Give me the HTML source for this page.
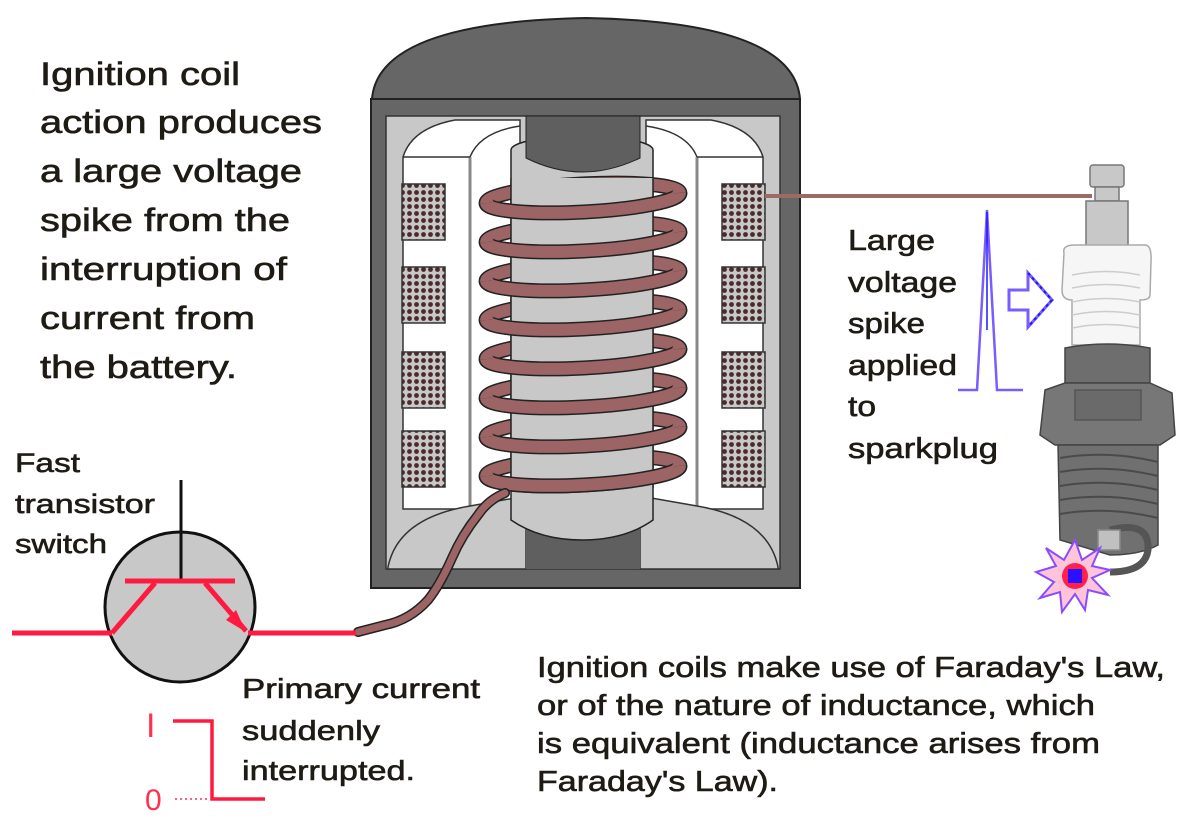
<!DOCTYPE html>
<html><head><meta charset="utf-8"><style>
html,body{margin:0;padding:0;background:#fff;}
svg{display:block;}
text{font-family:"Liberation Sans",Arial,sans-serif;fill:#1e1a14;stroke:#1e1a14;stroke-width:0.6;}
</style></head><body>
<svg width="1200" height="821" viewBox="0 0 1200 821" xmlns="http://www.w3.org/2000/svg">
<defs>
<pattern id="wind" width="7" height="7" patternUnits="userSpaceOnUse">
<rect width="7" height="7" fill="#c8c8c8"/>
<circle cx="3.5" cy="3.5" r="2.4" fill="#4a2a2a"/>
</pattern>
<g id="turnB">
<ellipse cx="0" cy="0" rx="97" ry="14" fill="none" stroke="#222" stroke-width="15"/>
<ellipse cx="0" cy="0" rx="97" ry="14" fill="none" stroke="#9c6464" stroke-width="12"/>
</g>
<g id="turnF">
<path d="M-97 0 A97 14 0 0 0 97 0" fill="none" stroke="#222" stroke-width="15"/>
<path d="M-97 0 A97 14 0 0 0 97 0" fill="none" stroke="#9c6464" stroke-width="12"/>
</g>
</defs>

<!-- Left text -->
<g font-size="32">
<text x="40" y="85" textLength="200" lengthAdjust="spacingAndGlyphs">Ignition coil</text>
<text x="40" y="133" textLength="282" lengthAdjust="spacingAndGlyphs">action produces</text>
<text x="40" y="182" textLength="262" lengthAdjust="spacingAndGlyphs">a large voltage</text>
<text x="40" y="231" textLength="250" lengthAdjust="spacingAndGlyphs">spike from the</text>
<text x="40" y="280" textLength="247" lengthAdjust="spacingAndGlyphs">interruption of</text>
<text x="40" y="329" textLength="215" lengthAdjust="spacingAndGlyphs">current from</text>
<text x="40" y="378" textLength="197" lengthAdjust="spacingAndGlyphs">the battery.</text>
</g>

<!-- Coil housing -->
<path d="M372 99 Q378 22 586 18 Q794 22 800 99 Z" fill="#666" stroke="#222" stroke-width="2"/>
<rect x="371" y="99" width="429" height="489" fill="#666" stroke="#222" stroke-width="2"/>
<rect x="386" y="116" width="394" height="453" fill="#c8c8c8" stroke="#333" stroke-width="1.5"/>
<path d="M403 157 Q412 128 455 120 L520 120 L520 509 L403 509 Z" fill="#fff" stroke="#333" stroke-width="1.5"/>
<path d="M470 157 Q480 132 520 126" fill="none" stroke="#333" stroke-width="1.5"/>
<line x1="470" y1="157" x2="470" y2="509" stroke="#888" stroke-width="3"/>
<line x1="403" y1="157" x2="470" y2="157" stroke="#333" stroke-width="1.5"/>
<path d="M763 157 Q754 128 711 120 L646 120 L646 509 L763 509 Z" fill="#fff" stroke="#333" stroke-width="1.5"/>
<path d="M697 157 Q687 132 646 126" fill="none" stroke="#333" stroke-width="1.5"/>
<line x1="697" y1="157" x2="697" y2="509" stroke="#888" stroke-width="3"/>
<line x1="697" y1="157" x2="763" y2="157" stroke="#333" stroke-width="1.5"/>
<path d="M388 567 Q398 518 470 506 L526 496 L526 569 L388 569 Z" fill="#c8c8c8" stroke="#333" stroke-width="1.5"/>
<path d="M778 567 Q768 518 697 506 L640 496 L640 569 L778 569 Z" fill="#c8c8c8" stroke="#333" stroke-width="1.5"/>
<g stroke="#333" stroke-width="1.5" fill="url(#wind)">
<rect x="402" y="184" width="43" height="56"/><rect x="402" y="267" width="43" height="56"/>
<rect x="402" y="352" width="43" height="56"/><rect x="402" y="431" width="43" height="56"/>
<rect x="722" y="184" width="43" height="56"/><rect x="722" y="267" width="43" height="56"/>
<rect x="722" y="352" width="43" height="56"/><rect x="722" y="431" width="43" height="56"/>
</g>
<rect x="526" y="116" width="114" height="453" fill="#5f5f5f"/>
<path d="M511 150 A71 14 0 0 1 653 150 L653 520 Q625 540 582 540 Q540 540 511 520 Z" fill="#c8c8c8" stroke="#222" stroke-width="1.5"/>
<path d="M526 116 L526 158 Q582 186 640 158 L640 116 Z" fill="#5f5f5f" stroke="#222" stroke-width="1"/>
<line x1="765" y1="196" x2="1092" y2="196" stroke="#9c6b64" stroke-width="4"/>

<use href="#turnB" transform="translate(583,198) rotate(-3)"/>
<use href="#turnB" transform="translate(583,237) rotate(-3)"/>
<use href="#turnB" transform="translate(583,276) rotate(-3)"/>
<use href="#turnB" transform="translate(583,315) rotate(-3)"/>
<use href="#turnB" transform="translate(583,354) rotate(-3)"/>
<use href="#turnB" transform="translate(583,393) rotate(-3)"/>
<use href="#turnB" transform="translate(583,432) rotate(-3)"/>
<use href="#turnB" transform="translate(583,471) rotate(-3)"/>
<rect x="511" y="178" width="142" height="310" fill="#c8c8c8"/>
<line x1="511" y1="178" x2="511" y2="488" stroke="#222" stroke-width="1.5"/>
<line x1="653" y1="178" x2="653" y2="488" stroke="#222" stroke-width="1.5"/>
<use href="#turnF" transform="translate(583,198) rotate(-3)"/>
<use href="#turnF" transform="translate(583,237) rotate(-3)"/>
<use href="#turnF" transform="translate(583,276) rotate(-3)"/>
<use href="#turnF" transform="translate(583,315) rotate(-3)"/>
<use href="#turnF" transform="translate(583,354) rotate(-3)"/>
<use href="#turnF" transform="translate(583,393) rotate(-3)"/>
<use href="#turnF" transform="translate(583,432) rotate(-3)"/>
<use href="#turnF" transform="translate(583,471) rotate(-3)"/>
<g fill="none" stroke-linecap="round">
<path d="M505 493 Q488 500 478 515 Q462 535 452 558 Q440 585 428 600 Q410 620 385 625 L358 632" stroke="#222" stroke-width="10"/>
<path d="M505 493 Q488 500 478 515 Q462 535 452 558 Q440 585 428 600 Q410 620 385 625 L358 632" stroke="#9c6464" stroke-width="7"/>
</g>

<g font-size="29">
<text x="848" y="250" textLength="87" lengthAdjust="spacingAndGlyphs">Large</text>
<text x="848" y="292" textLength="109" lengthAdjust="spacingAndGlyphs">voltage</text>
<text x="848" y="333" textLength="77" lengthAdjust="spacingAndGlyphs">spike</text>
<text x="848" y="375" textLength="109" lengthAdjust="spacingAndGlyphs">applied</text>
<text x="848" y="416" textLength="28" lengthAdjust="spacingAndGlyphs">to</text>
<text x="848" y="458" textLength="150" lengthAdjust="spacingAndGlyphs">sparkplug</text>
</g>
<polyline points="958,390 977,390 987,210 997,390 1023,390" fill="none" stroke="#7a5cff" stroke-width="2.5"/>
<line x1="987" y1="212" x2="987" y2="330" stroke="#1a1aff" stroke-width="1.5"/>
<path d="M1009 290 L1028 290 L1028 273 L1052 300 L1028 327 L1028 310 L1009 310 Z" fill="#fff" stroke="#7a5cff" stroke-width="3"/>
<path d="M1028 273 L1052 300 L1028 327" fill="none" stroke="#1a1aff" stroke-width="2" stroke-dasharray="3 3"/>

<g stroke="#777" stroke-width="1.5">
<rect x="1090" y="165" width="34" height="22" rx="3" fill="#c8c8c8"/>
<rect x="1095" y="187" width="24" height="14" fill="#c8c8c8"/>
<rect x="1086" y="201" width="42" height="45" fill="#c8c8c8"/>
<path d="M1064 253 Q1062 245 1075 245 L1145 245 Q1152 245 1151 262 L1150 295 Q1150 300 1140 300 L1140 345 L1072 345 L1072 300 Q1062 300 1062 290 Z" fill="#f6f6f6" stroke="#aaa"/>
<g stroke="#ccc" fill="none">
<path d="M1072 275 Q1106 268 1140 275"/><path d="M1072 288 Q1106 281 1140 288"/>
<path d="M1072 302 Q1106 295 1140 302"/><path d="M1072 315 Q1106 308 1140 315"/>
<path d="M1072 328 Q1106 321 1140 328"/>
</g>
<path d="M1065 348 Q1106 340 1150 348 L1150 383 L1065 383 Z" fill="#6e6e6e" stroke="#444"/>
<path d="M1045 390 L1065 383 L1150 383 L1172 393 L1175 435 L1160 445 L1055 445 L1040 435 Z" fill="#777" stroke="#444"/>
<rect x="1075" y="390" width="66" height="30" fill="#6a6a6a" stroke="#555"/>
<path d="M1058 445 L1158 445 L1158 545 Q1140 555 1110 555 L1060 540 Z" fill="#707070" stroke="#444"/>
<g stroke="#4a4a4a" fill="none" stroke-width="2">
<path d="M1060 458 Q1108 450 1158 462"/><path d="M1060 472 Q1108 464 1158 476"/>
<path d="M1060 486 Q1108 478 1158 490"/><path d="M1060 500 Q1108 492 1158 504"/>
<path d="M1060 514 Q1108 506 1158 518"/>
</g>
<path d="M1110 530 Q1150 520 1148 550 Q1145 572 1110 572" fill="none" stroke="#555" stroke-width="7"/>
<rect x="1098" y="530" width="22" height="20" fill="#c0c0c0" stroke="#888"/>
</g>
<polygon points="1075,540 1082,560 1100,548 1092,566 1110,570 1092,578 1108,595 1088,590 1085,610 1075,594 1062,612 1060,592 1040,598 1054,582 1036,572 1056,566 1046,548 1064,560" fill="#ffc4d8" stroke="#8a4cff" stroke-width="2"/>
<circle cx="1075" cy="576" r="13" fill="#ff2050"/>
<rect x="1068" y="569" width="14" height="14" fill="#2a10ff"/>

<g font-size="27">
<text x="15" y="472" textLength="65" lengthAdjust="spacingAndGlyphs">Fast</text>
<text x="15" y="513" textLength="140" lengthAdjust="spacingAndGlyphs">transistor</text>
<text x="15" y="553" textLength="92" lengthAdjust="spacingAndGlyphs">switch</text>
</g>
<circle cx="180" cy="607" r="75" fill="#c8c8c8" stroke="#111" stroke-width="3"/>
<line x1="181" y1="480" x2="181" y2="581" stroke="#111" stroke-width="3"/>
<g stroke="#ff1a40" stroke-width="5" fill="none">
<line x1="125" y1="581" x2="235" y2="581"/>
<line x1="12" y1="633" x2="112" y2="633"/>
<line x1="248" y1="633" x2="356" y2="633"/>
<line x1="112" y1="633" x2="155" y2="583"/>
<line x1="205" y1="583" x2="246" y2="631"/>
</g>
<polygon points="246,632 226,620 236,610" fill="#ff1a40"/>

<g font-size="28">
<text x="242" y="698" textLength="238" lengthAdjust="spacingAndGlyphs">Primary current</text>
<text x="242" y="740" textLength="138" lengthAdjust="spacingAndGlyphs">suddenly</text>
<text x="242" y="780" textLength="173" lengthAdjust="spacingAndGlyphs">interrupted.</text>
</g>
<text x="146" y="737" font-family="Liberation Serif,serif" font-size="34" style="fill:#ff3050;stroke:none">I</text>
<text x="145" y="810" font-family="Liberation Serif,serif" font-size="30" style="fill:#ff3050;stroke:none">0</text>
<polyline points="173,721 212,721 212,799 265,799" fill="none" stroke="#ff1a40" stroke-width="3.5"/>
<line x1="175" y1="799" x2="207" y2="799" stroke="#ff3050" stroke-width="1.5" stroke-dasharray="2 3"/>

<g font-size="29">
<text x="537" y="677" textLength="628" lengthAdjust="spacingAndGlyphs">Ignition coils make use of Faraday's Law,</text>
<text x="537" y="715" textLength="558" lengthAdjust="spacingAndGlyphs">or of the nature of inductance, which</text>
<text x="537" y="753" textLength="563" lengthAdjust="spacingAndGlyphs">is equivalent (inductance arises from</text>
<text x="537" y="791" textLength="241" lengthAdjust="spacingAndGlyphs">Faraday's Law).</text>
</g>
</svg>
</body></html>
